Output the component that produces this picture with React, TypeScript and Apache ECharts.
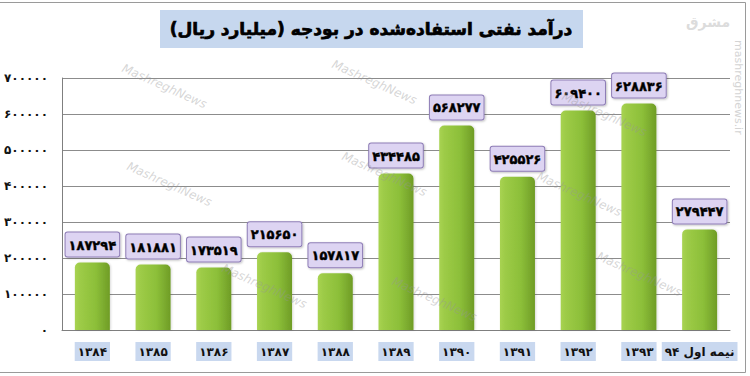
import React, { useEffect, useRef } from "react";
import * as echarts from "echarts";

const categories = ["1384", "1385", "1386", "1387", "1388", "1389", "1390", "1391", "1392", "1393", "نیمه اول 94"];
const values = [187294, 181881, 173519, 215650, 157817, 434485, 568277, 425526, 609400, 628836, 279447];
const yTicks = { min: 0, max: 700000, interval: 100000 };
const titleText = "درآمد نفتی استفاده‌شده در بودجه (میلیارد ریال)";

const FA = "۰۱۲۳۴۵۶۷۸۹";
const toFa = (s: string | number) => String(s).replace(/[0-9]/g, (d) => FA[+d]);

const FONT = "'DejaVu Sans', sans-serif";

const watermarks: [number, number][] = [
  [125, 62], [335, 58], [565, 90], [130, 160], [345, 150], [540, 170], [225, 262], [395, 275], [600, 250],
];

export default function App() {
  const ref = useRef<HTMLDivElement>(null);
  useEffect(() => {
    document.body.style.margin = "0";
    const chart = echarts.init(ref.current!, null, { renderer: "svg" });
    const graphics: any[] = [
      { type: "line", shape: { x1: 0, y1: 2.5, x2: 745.5, y2: 2.5 }, style: { stroke: "#9a9a9a", lineWidth: 1 }, silent: true },
      { type: "line", shape: { x1: 745.5, y1: 2.5, x2: 745.5, y2: 372.5 }, style: { stroke: "#9a9a9a", lineWidth: 1 }, silent: true },
      { type: "line", shape: { x1: 0, y1: 372.5, x2: 745.5, y2: 372.5 }, style: { stroke: "#9a9a9a", lineWidth: 1 }, silent: true },
      { type: "rect", shape: { x: 160, y: 10, width: 423, height: 38 }, style: { fill: "#c6d7ee" }, z: 5 },
      {
        type: "text",
        x: 371,
        y: 29,
        z: 6,
        style: {
          text: titleText,
          font: `bold 17px ${FONT}`,
          fill: "#000",
          align: "center",
          verticalAlign: "middle",
          stroke: "#000",
          lineWidth: 0.7,
        },
      },
      {
        type: "text",
        x: 738,
        y: 40,
        rotation: -Math.PI / 2,
        style: { text: "mashreghnews.ir", font: `11px ${FONT}`, fill: "#d4d4d4", align: "left", verticalAlign: "middle" },
      },
      {
        type: "text",
        x: 708,
        y: 22,
        style: { text: "مشرق", font: `bold 14px ${FONT}`, fill: "#dcdcdc", align: "center", verticalAlign: "middle" },
      },
    ];
    watermarks.forEach(([x, y]) =>
      graphics.push({
        type: "text",
        x,
        y,
        rotation: -0.42,
        z: 20,
        silent: true,
        style: { text: "MashreghNews", font: `italic 12px ${FONT}`, fill: "rgba(150,150,150,0.4)" },
      })
    );

    chart.setOption({
      animation: false,
      backgroundColor: "#ffffff",
      grid: { left: 62, right: 20, top: 78, bottom: 46 },
      graphic: graphics,
      xAxis: {
        type: "category",
        data: categories,
        axisLine: { show: true, lineStyle: { color: "#7f7f7f", width: 1 } },
        axisTick: { show: false },
        axisLabel: {
          interval: 0,
          margin: 12,
          formatter: (v: string) => toFa(v),
          fontFamily: FONT,
          fontWeight: "bold",
          fontSize: 12,
          color: "#111",
          backgroundColor: "#c9d8ef",
          padding: [4, 3, 3, 3],
        },
      },
      yAxis: {
        type: "value",
        min: yTicks.min,
        max: yTicks.max,
        interval: yTicks.interval,
        axisLine: { show: true, lineStyle: { color: "#7f7f7f", width: 1 } },
        axisTick: { show: false },
        splitLine: { show: true, lineStyle: { color: "#8c8c8c", width: 1 } },
        axisLabel: {
          margin: 14,
          formatter: (v: number) => toFa(v),
          fontFamily: FONT,
          fontWeight: "bold",
          fontSize: 12,
          color: "#111",
        },
      },
      series: [
        {
          type: "bar",
          data: values,
          barWidth: 35,
          itemStyle: {
            borderRadius: [5, 5, 0, 0],
            color: new echarts.graphic.LinearGradient(0, 0, 1, 0, [
              { offset: 0, color: "#a8d352" },
              { offset: 0.15, color: "#9dcb47" },
              { offset: 0.6, color: "#8cbf39" },
              { offset: 1, color: "#6f9c26" },
            ]),
            shadowColor: "rgba(0,0,0,0.15)",
            shadowBlur: 2,
            shadowOffsetX: 1,
          },
          label: {
            show: true,
            position: "top",
            distance: 6,
            formatter: (p: any) => toFa(p.value),
            fontFamily: FONT,
            fontWeight: "bold",
            fontSize: 13,
            color: "#000",
            textBorderColor: "#000",
            textBorderWidth: 0.4,
            backgroundColor: "#ddd4f2",
            borderColor: "#8e7db6",
            borderWidth: 1,
            borderRadius: 2,
            padding: [6, 3, 5, 3],
            shadowColor: "rgba(0,0,0,0.25)",
            shadowBlur: 2,
            shadowOffsetX: 1,
            shadowOffsetY: 1,
          },
        },
      ],
    });
    return () => chart.dispose();
  }, []);
  return <div ref={ref} style={{ width: 750, height: 376 }} />;
}
